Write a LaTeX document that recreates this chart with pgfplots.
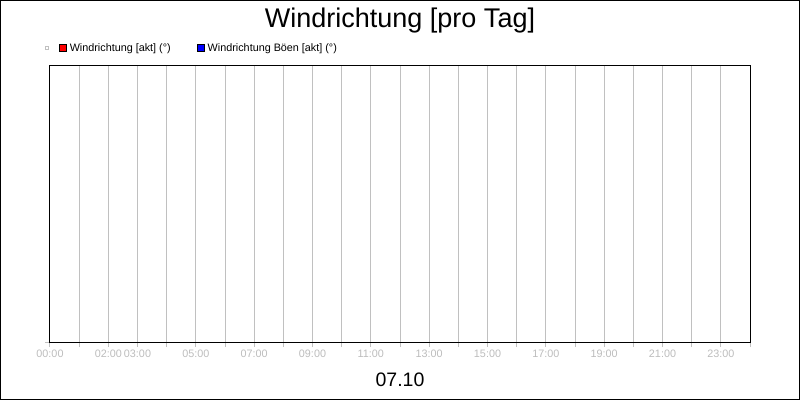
\documentclass[border=0pt]{standalone}
\usepackage{fontspec}
\setmainfont{Liberation Sans}
\usepackage{pgfplots}
\pgfplotsset{compat=1.18}
\definecolor{gridc}{HTML}{C0C0C0}
\definecolor{labc}{HTML}{BCBCBC}
\begin{document}
\begin{tikzpicture}[x=1pt,y=1pt]
\useasboundingbox (0,0) rectangle (800,400);
\draw[black,line width=1pt] (0.5,0.5) rectangle (799.5,399.5);
\node[anchor=base,font=\fontsize{27}{30}\selectfont] at (400,372) {Windrichtung [pro Tag]};
\begin{axis}[
  at={(50pt,58pt)}, anchor=south west,
  width=700pt, height=277pt, scale only axis,
  xmin=0, xmax=24, ymin=0, ymax=360,
  xtick={0,...,24},
  xticklabels={00:00,,02:00,03:00,,05:00,,07:00,,09:00,,11:00,,13:00,,15:00,,17:00,,19:00,,21:00,,23:00,},
  ytick={0}, yticklabels={},
  tick pos=left, tick align=outside,
  major tick length=5pt,
  every tick/.style={gridc, line width=1pt},
  xmajorgrids, major grid style={gridc, line width=1pt},
  axis line style={black, line width=1pt},
  /pgf/number format/assume math mode=true,
  xticklabel style={font=\fontsize{10.8}{12}\selectfont, text=labc, anchor=base, yshift=-10pt},
  xlabel={07.10},
  xlabel style={font=\fontsize{19.5}{22}\selectfont, at={(axis description cs:0.5,0)}, anchor=base, yshift=-44pt},
  legend style={at={(axis description cs:0,1)}, anchor=west, xshift=-5pt, yshift=17pt,
    draw=none, fill=none, inner sep=0pt, font=\fontsize{10.8}{12}\selectfont,
    nodes={inner sep=0pt}},
  legend columns=-1,
]
\addlegendimage{legend image code/.code={\draw[gridc,line width=0.8pt] (0.4pt,-1.6pt) rectangle (3.2pt,1.2pt);}}
\addlegendentry{\hspace*{10pt}}
\addlegendimage{legend image code/.code={\draw[black,fill=red,line width=0.8pt] (0.4pt,-3.6pt) rectangle (7.6pt,3.6pt);}}
\addlegendentry{\hspace*{3pt}Windrichtung [akt] (°)\hspace*{26pt}}
\addlegendimage{legend image code/.code={\draw[black,fill=blue,line width=0.8pt] (0.4pt,-3.6pt) rectangle (7.6pt,3.6pt);}}
\addlegendentry{\hspace*{3pt}Windrichtung Böen [akt] (°)}
\end{axis}
\end{tikzpicture}
\end{document}
